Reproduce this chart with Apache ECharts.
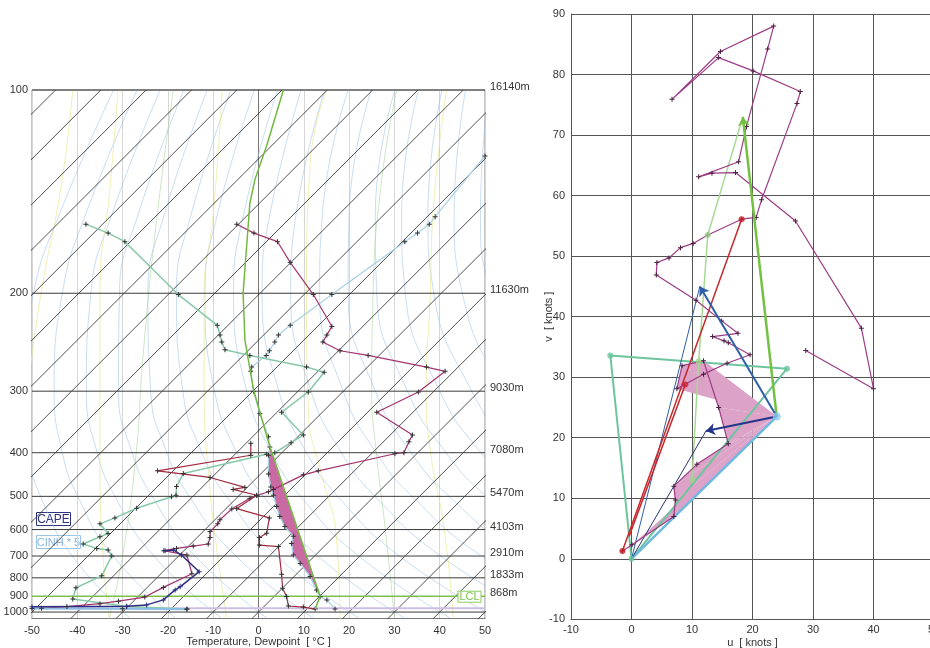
<!DOCTYPE html>
<html>
<head>
<meta charset="utf-8">
<title>Skew-T and hodograph</title>
<script src="https://cdn.jsdelivr.net/npm/echarts@6/dist/echarts.min.js"></script>
<style>
html, body { margin: 0; padding: 0; background: #fff; }
#chart { width: 930px; height: 648px; }
</style>
</head>
<body>
<div id="chart"></div>
<script>
// ---------- skew-T: x = plotted temperature (°C), p = pressure (hPa) ----------
const isobars = [100, 200, 300, 400, 500, 600, 700, 800, 900, 1000];
const heightLabels = ['16140m', '11630m', '9030m', '7080m', '5470m', '4103m', '2910m', '1833m', '868m', ''];
const lclPressure = 900;
const surfacePressure = 975;
const isotherms = [-160, -150, -140, -130, -120, -110, -100, -90, -80, -70, -60, -50, -40, -30, -20, -10, 0, 10, 20, 30, 40, 50];
const isothermShiftTop = 115.2; // how far an isotherm leans between 1000 and 100 hPa

// profiles
const upperTemp = [[-4.8,155],[-1.0,160],[4.2,165],[7.0,178],[12.1,201],[16.2,228],[15.1,236],[14.2,243],[18.0,252],[24.2,257],[37.1,270],[41.2,275],[35.3,301],[26.1,330],[34.0,367],[33.2,379],[32.1,400],[30.1,402],[13.2,438],[9.9,447],[3.3,482],[2.2,488],[-0.4,498],[-1.9,505],[-5.9,535],[-8.5,568],[-9.0,581],[-10.7,607],[-10.7,628],[-11.1,652],[-14.4,660],[-18.1,669],[-20.9,678],[-15.8,696],[-14.7,780],[-21.0,850],[-25.1,905],[-30.9,930],[-35.0,945],[-42.3,964],[-47.9,975]];
const dewpoint = [[12.5,980],[9.9,967],[6.6,960],[6.2,901],[5.3,855],[5.1,782],[4.4,662],[0.2,656],[0.2,628],[1.8,613],[2.4,562],[-4.8,534],[-0.4,497],[-5.6,482],[-3.0,477],[-10.7,453],[-22.3,438],[-1.7,405],[-1.7,382]];
const upperDew = [[-38.1,155],[-33.2,160],[-29.5,165],[-17.7,201],[-9.1,227],[-8.5,236],[-8.1,243],[-7.4,251],[-1.9,257],[10.6,270],[14.5,276],[11.0,301],[5.1,330],[9.9,367],[7.2,381],[3.6,400],[1.8,403],[-16.6,444],[-18.1,475],[-18.2,497],[-19.2,501],[-26.9,533],[-31.7,562],[-35.0,581],[-33.2,614],[-35.0,625],[-38.7,652],[-35.7,669],[-33.2,675],[-32.4,700],[-34.6,790],[-40.3,852],[-41.0,916],[-29.1,964],[-15.8,980]];
const envTemp = [[50,123],[39.0,151],[37.7,155],[35.1,160],[32.3,165],[16.2,201],[7.0,227],[4.4,236],[3.6,243],[2.4,252],[1.7,257],[-1.5,270],[-1.7,275],[-1.1,300],[0.3,332],[2.2,370],[2.5,389],[2.2,405],[2.2,445],[2.7,476],[3.3,497],[4.0,528],[4.7,558],[5.8,590],[7.7,623],[7.3,650],[7.7,696],[9.2,732],[11.4,794],[12.8,864],[13.6,903],[15.1,922],[16.9,980]];
const parcel = [[5.5,100],[1.8,119],[-0.8,133],[-1.9,144],[-2.6,167],[-3.4,200],[-3.0,241],[-1.1,298],[0.8,342],[2.5,388],[13.6,901],[12.5,980]];
const capeTrace = [[-50,965],[-29.1,962],[-24.7,953],[-21.0,922],[-18.4,864],[-17.3,847],[-13.1,770],[-17.0,696],[-18.8,675],[-20.6,678]];
const cinhTrace = [[-50,976],[-30,978],[-15.8,982]];
const capeTop = 388, capeBottom = 903;

// faint background curves
const dryAdiabatP = [1045, 700, 500, 400, 300, 200, 150, 100];
const dryAdiabatX = [
  [-28.3,-41.1,-48.1,-51.0,-52.2,-49.7,-44.0,-32.0],
  [-18.2,-32.1,-39.9,-43.3,-45.1,-43.3,-38.2,-26.8],
  [-8.1,-23.1,-31.7,-35.6,-38.0,-37.0,-32.4,-21.7],
  [2.0,-14.0,-23.5,-27.9,-30.9,-30.7,-26.6,-16.5],
  [12.2,-5.0,-15.3,-20.2,-23.8,-24.4,-20.8,-11.3],
  [22.3,4.0,-7.1,-12.5,-16.7,-18.1,-14.9,-6.1],
  [32.4,13.1,1.1,-4.8,-9.7,-11.8,-9.1,-0.9],
  [42.5,22.1,9.3,2.9,-2.6,-5.5,-3.3,4.2],
  [52.7,31.1,17.5,10.6,4.5,0.8,2.5,9.4],
  [62.8,40.2,25.7,18.3,11.6,7.1,8.3,14.6],
  [72.9,49.2,33.9,26.0,18.7,13.5,14.1,19.8],
  [83.0,58.2,42.1,33.7,25.8,19.8,20.0,24.9],
  [93.1,67.2,50.3,41.4,32.9,26.1,25.8,30.1],
  [103.2,76.3,58.5,49.1,40.0,32.4,31.6,35.3],
  [113.3,85.3,66.7,56.8,47.1,38.7,37.4,40.5],
  [123.4,94.3,74.9,64.5,54.2,45.0,43.2,45.7],
  [133.6,103.4,83.1,72.2,61.3,51.4,49.0,50.8],
  [143.7,112.4,91.3,79.9,68.4,57.7,54.8,56.0]
];
const yellowCurves = [
  [[-41,100],[-43.5,135],[-48,200],[-51,300]],
  [[-31,100],[-32.8,137],[-35,200],[-35,300],[-35,450],[-33,1045]],
  [[-8,100],[-10,150],[-12,200],[-12,300],[-11,450],[-9,700],[-7,1045]],
  [[15,100],[11.4,126],[10.6,200],[11,327],[14,450],[17,600],[18,1045]],
  [[41.5,100],[38.5,150],[37.9,203],[37,300],[38,400],[41,600],[43,1045]]
];
const paleGreenCurves = [
  [[-18.8,100],[-22.5,153],[-25.5,258],[-27,400],[-30,700],[-33,1045]],
  [[30.5,100],[27.2,133],[25.3,200],[25,300],[26,400],[28,600],[30,1045]]
];

// ---------- hodograph (u, v in knots) ----------
const hodoWind = [[-1.5,1.3],[0.1,2.3],[7.0,7.0],[7.25,9.7],[7.0,12.0],[10.8,15.6],[16.0,19.0],[14.4,25.0],[11.9,32.7],[8.35,31.9],[7.5,28.1],[11.9,30.5],[15.8,32.3],[19.6,33.7],[16.0,35.7],[15.3,36.0],[13.4,36.7],[17.6,37.25],[14.9,39.3],[10.66,42.7],[4.1,46.9],[4.2,48.95],[6.2,49.7],[8.1,51.4],[10.2,52.1],[12.6,53.5],[18.2,56.1],[20.6,56.4],[21.5,59.3],[27.35,75.2],[27.9,77.2],[20.1,80.6],[14.4,82.8],[6.7,75.9],[14.7,83.8],[23.5,88.0],[22.5,84.2],[19.0,71.4],[17.7,65.6],[11.1,63.1],[13.3,63.7],[17.2,63.8],[27.1,55.8],[38.0,38.1],[40.0,28.1],[28.8,34.4]];
const srhLayer = hodoWind.slice(1, 11);
const stormMotion = [24, 23.5];
const greenArrow = [[24,23.5],[18.4,73.0]];
const greenReturn = [[18.4,73.0],[12.6,53.5],[11.1,32.6],[10,13]];
const tealPath = [[0,0],[-3.5,33.6],[25.7,31.4],[0,0]];
const stormVector = [[0,0],[24,23.5]];
const navyArrow = [[24,23.5],[12.3,21.1]];
const navyBack = [[12.3,21.1],[0,0]];
const blueArrow = [[24,23.5],[11.3,45.0]];
const blueBack = [[11.3,45.0],[0,0]];
const redLineA = [[-1.5,1.3],[18.2,56.1]];
const redLineB = [[-0.4,3.7],[8.9,28.8]];
const redDots = [[-1.5,1.3],[8.9,28.8],[18.2,56.1]];
const tealDots = [[-3.5,33.6],[25.7,31.4],[0,0]];
const lightGreenDots = [[12.6,53.5],[11.1,32.6],[10,13]];

// ---------- helpers ----------
const FONT = '"Liberation Sans", Arial, sans-serif';
const pExp = -0.35;               // vertical scale of the skew-T
const py = p => Math.pow(p, pExp);
const pBottom = 1045;
const toXY = arr => arr.map(d => [d[0], py(d[1])]);
const isoX = (t, p) => t + isothermShiftTop * (py(p) - py(1000)) / (py(100) - py(1000));
const plus = 'path://M4,0H6V4H10V6H6V10H4V6H0V4H4Z';

const chart = echarts.init(document.getElementById('chart'));
const series = [];

function skewLine(data, color, width, opts) {
  series.push(Object.assign({
    type: 'line', xAxisIndex: 0, yAxisIndex: 0, data: data, silent: true,
    showSymbol: false, symbol: 'none', lineStyle: { color: color, width: width }, z: 2
  }, opts || {}));
}

dryAdiabatX.forEach(row => {
  skewLine(row.map((x, i) => [x, py(dryAdiabatP[i])]), 'rgba(150,190,228,0.5)', 1, { smooth: true, z: 1 });
});
yellowCurves.forEach(c => skewLine(toXY(c), 'rgba(232,232,150,0.7)', 1, { smooth: true, z: 1 }));
paleGreenCurves.forEach(c => skewLine(toXY(c), 'rgba(170,215,160,0.6)', 1, { smooth: true, z: 1 }));
isotherms.forEach(t => {
  skewLine([[isoX(t, pBottom), py(pBottom)], [isoX(t, 100), py(100)]], '#222', 0.8, { z: 2 });
});

// isobars with pressure / height labels
series.push({
  type: 'custom', xAxisIndex: 0, yAxisIndex: 0, silent: true, z: 3,
  data: isobars.map((p, i) => [-50, py(p), i]),
  encode: { x: 0, y: 1 },
  renderItem: function (params, api) {
    const i = api.value(2);
    const p = isobars[i];
    const a = api.coord([-50, api.value(1)]);
    const b = api.coord([50, api.value(1)]);
    const isLcl = p === lclPressure;
    const kids = [
      { type: 'line', shape: { x1: a[0], y1: a[1], x2: b[0], y2: b[1] },
        style: { stroke: isLcl ? '#7cc04a' : '#3a3a3a', lineWidth: isLcl ? 1.5 : 1 } },
      { type: 'text', x: a[0] - 4, y: a[1], style: { text: String(p), align: 'right', verticalAlign: 'middle', fill: '#333', font: '11px ' + FONT } },
      { type: 'text', x: b[0] + 5, y: a[1] - 3, style: { text: heightLabels[i], align: 'left', verticalAlign: 'middle', fill: '#333', font: '11px ' + FONT } }
    ];
    if (isLcl) {
      kids.push({ type: 'rect', shape: { x: b[0] - 27, y: a[1] - 5, width: 23, height: 11 },
        style: { fill: '#fff', stroke: '#8ccc5a', lineWidth: 1 } });
      kids.push({ type: 'text', x: b[0] - 15.5, y: a[1] + 0.5, style: { text: 'LCL', align: 'center', verticalAlign: 'middle', fill: '#7cc04a', font: '11px ' + FONT } });
    }
    return { type: 'group', children: kids };
  }
});

// CAPE area between parcel and environment
series.push({
  type: 'custom', xAxisIndex: 0, yAxisIndex: 0, silent: true, z: 4,
  data: [[0, py(500)]],
  renderItem: function (params, api) {
    const warm = parcel.filter(d => d[1] >= capeTop && d[1] <= capeBottom);
    const env = envTemp.filter(d => d[1] >= capeTop && d[1] <= capeBottom).reverse();
    const pts = warm.concat(env).map(d => api.coord([d[0], py(d[1])]));
    return { type: 'polygon', shape: { points: pts }, style: { fill: '#c96aa2', stroke: '#a9cfe6', lineWidth: 1 } };
  }
});

skewLine([[-50, py(surfacePressure)], [50, py(surfacePressure)]], '#cdbfe2', 2, { z: 3 });

const profileStyle = (color, width) => ({
  showSymbol: true, symbol: plus, symbolSize: 5, itemStyle: { color: '#333' },
  lineStyle: { color: color, width: width }, z: 6
});
skewLine(toXY(envTemp), '#a6d0e4', 1.2, profileStyle('#a6d0e4', 1.2));
skewLine(toXY(upperDew), '#86c9a8', 1.5, profileStyle('#86c9a8', 1.5));
skewLine(toXY(upperTemp), '#a3336f', 1.2, profileStyle('#a3336f', 1.2));
skewLine(toXY(dewpoint), '#a12a3e', 1.2, profileStyle('#a12a3e', 1.2));
skewLine(toXY(cinhTrace), '#8cbde6', 2, profileStyle('#8cbde6', 2));
skewLine(toXY(capeTrace), '#2e2e80', 1.5, Object.assign(profileStyle('#2e2e80', 1.5), { itemStyle: { color: '#2e2e80' } }));
skewLine(toXY(parcel), '#72b83e', 1.5, { z: 7 });

// ---------- hodograph series ----------
function hodoLine(data, color, width, opts) {
  series.push(Object.assign({
    type: 'line', xAxisIndex: 1, yAxisIndex: 1, data: data, silent: true,
    showSymbol: false, symbol: 'none', lineStyle: { color: color, width: width }, z: 5
  }, opts || {}));
}
function hodoArrow(seg, color, width) {
  series.push({
    type: 'lines', coordinateSystem: 'cartesian2d', xAxisIndex: 1, yAxisIndex: 1, silent: true, z: 8,
    symbol: ['none', 'arrow'], symbolSize: 9,
    lineStyle: { color: color, width: width, opacity: 1 },
    data: [{ coords: seg }]
  });
}
function hodoDots(data, color, size) {
  series.push({
    type: 'scatter', xAxisIndex: 1, yAxisIndex: 1, data: data, silent: true, z: 9,
    symbolSize: size, itemStyle: { color: color }
  });
}

series.push({
  type: 'custom', xAxisIndex: 1, yAxisIndex: 1, silent: true, z: 3,
  data: srhLayer.slice(0, -1).map((d, i) => [d[0], d[1], i]),
  encode: { x: 0, y: 1 },
  renderItem: function (params, api) {
    const i = api.value(2);
    const pts = [stormMotion, srhLayer[i], srhLayer[i + 1]].map(d => api.coord(d));
    return { type: 'polygon', shape: { points: pts }, style: { fill: '#dca2c8' } };
  }
});

hodoLine(tealPath, '#6cc59d', 2);
hodoLine(stormVector, '#6db9e2', 2.5);
hodoLine(greenReturn, '#a6da94', 1.5);
hodoLine(navyBack, '#2a2f70', 1);
hodoLine(blueBack, '#2e5fa8', 1);
hodoLine(redLineA, '#c4282c', 1.5);
hodoLine(redLineB, '#c4282c', 1.5);
hodoLine(hodoWind, '#9c3c84', 1.2, { showSymbol: true, symbol: plus, symbolSize: 5, itemStyle: { color: '#4a2040' }, z: 6 });
hodoArrow(greenArrow, '#74c043', 2.5);
hodoArrow(navyArrow, '#23358a', 2);
hodoArrow(blueArrow, '#2e5fa8', 2);
hodoDots(redDots, '#d0202a', 6);
hodoDots(tealDots, '#6cc59d', 6);
hodoDots(lightGreenDots, '#9ed48a', 6);
hodoDots([stormMotion], '#8cccee', 8);

const option = {
  animation: false,
  backgroundColor: '#fff',
  textStyle: { fontFamily: FONT },
  grid: [
    { left: 32, top: 90, width: 453, height: 528.5, show: true, borderColor: '#8a8a8a', borderWidth: 1, outerBoundsMode: 'none', containLabel: false },
    { left: 571, top: 14, width: 363, height: 605.3, outerBoundsMode: 'none', containLabel: false }
  ],
  xAxis: [
    {
      type: 'value', gridIndex: 0, min: -50, max: 50, interval: 10,
      axisLine: { show: true, lineStyle: { color: '#777' } },
      axisTick: { show: false },
      axisLabel: { color: '#333', fontSize: 11, margin: 7 },
      splitLine: { show: true, lineStyle: { color: '#d6d6d6', width: 1 } },
      name: 'Temperature, Dewpoint  [ °C ]', nameLocation: 'middle', nameGap: 18, nameMoveOverlap: false,
      nameTextStyle: { color: '#333', fontSize: 11 }
    },
    {
      type: 'value', gridIndex: 1, min: -10, max: 50, interval: 10,
      axisLine: { show: true, onZero: false, lineStyle: { color: '#555' } },
      axisTick: { show: false },
      axisLabel: { color: '#333', fontSize: 11, margin: 5 },
      splitLine: { show: true, lineStyle: { color: '#555', width: 1 } },
      name: 'u  [ knots ]', nameLocation: 'middle', nameGap: 18, nameMoveOverlap: false,
      nameTextStyle: { color: '#333', fontSize: 11 }
    }
  ],
  yAxis: [
    {
      type: 'value', gridIndex: 0, min: py(pBottom), max: py(100),
      axisLine: { show: true, lineStyle: { color: '#777' } },
      axisTick: { show: false }, axisLabel: { show: false }, splitLine: { show: false }
    },
    {
      type: 'value', gridIndex: 1, min: -10, max: 90, interval: 10,
      axisLine: { show: true, onZero: false, lineStyle: { color: '#555' } },
      axisTick: { show: false },
      axisLabel: { color: '#333', fontSize: 11, margin: 6 },
      splitLine: { show: true, lineStyle: { color: '#555', width: 1 } },
      name: 'v  [ knots ]', nameLocation: 'middle', nameGap: 17, nameRotate: 90, nameMoveOverlap: false,
      nameTextStyle: { color: '#333', fontSize: 11 }
    }
  ],
  graphic: [
    { type: 'group', left: 36, top: 512, z: 100, children: [
      { type: 'rect', shape: { x: 0, y: 0, width: 34, height: 13 }, style: { fill: '#fff', stroke: '#2e3580', lineWidth: 1 } },
      { type: 'text', x: 17, y: 7, style: { text: 'CAPE', align: 'center', verticalAlign: 'middle', fill: '#2e3580', font: '12px ' + FONT } }
    ] },
    { type: 'group', left: 36, top: 535, z: 100, children: [
      { type: 'rect', shape: { x: 0, y: 0, width: 44, height: 13 }, style: { fill: '#fff', stroke: '#9cc6e8', lineWidth: 1 } },
      { type: 'text', x: 22, y: 7, style: { text: 'CINH * 5', align: 'center', verticalAlign: 'middle', fill: '#86b6e0', font: '11px ' + FONT } }
    ] }
  ],
  series: series
};
chart.setOption(option);
</script>
</body>
</html>
